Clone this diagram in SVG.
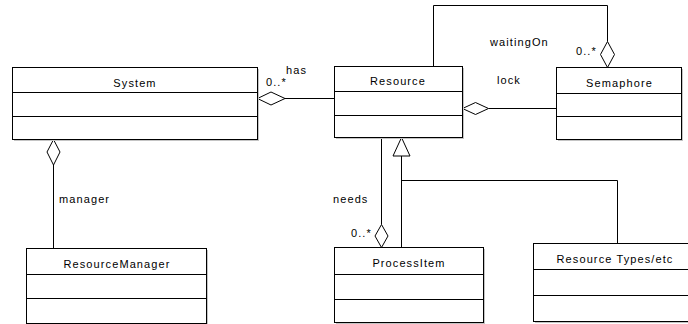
<svg xmlns="http://www.w3.org/2000/svg" width="688" height="324" viewBox="0 0 688 324">
  <style>
    .box { fill: #ffffff; stroke: #000000; stroke-width: 1; }
    .shadow { fill: #c4c4c4; }
    .div { stroke: #000000; stroke-width: 1; fill: none; }
    .line { stroke: #000000; stroke-width: 1; fill: none; }
    .agg { fill: #ffffff; stroke: #000000; stroke-width: 1; }
    text { font-family: "Liberation Sans", Arial, sans-serif; font-size: 11px; letter-spacing: 1.1px; fill: #000000; }
    .title { text-anchor: middle; }
  </style>

  <rect width="688" height="324" fill="#ffffff"/>

  <!-- associations and generalization -->
  <g id="connectors">
    <!-- System has Resource -->
    <line class="line" x1="285" y1="98.5" x2="334.5" y2="98.5"/>
    <polygon class="agg" points="257.5,98.5 271,92 285,98.5 271,105"/>
    <text x="266" y="86">0..*</text>
    <text x="286" y="74">has</text>

    <!-- System manager ResourceManager -->
    <line class="line" x1="53.5" y1="165" x2="53.5" y2="248.5"/>
    <polygon class="agg" points="53.5,139.5 47,152 53.5,165 60,152"/>
    <text x="59" y="202.5">manager</text>

    <!-- Semaphore waitingOn Resource -->
    <path class="line" d="M433.5,66.5 V5.5 H607.5 V41.5"/>
    <polygon class="agg" points="607.5,41.5 600.5,54.5 607.5,67.5 614.5,54.5"/>
    <text x="490" y="46">waitingOn</text>
    <text x="576" y="54.5">0..*</text>

    <!-- Resource lock Semaphore -->
    <line class="line" x1="488.5" y1="108.5" x2="556.5" y2="108.5"/>
    <polygon class="agg" points="462.5,108.5 475.5,102.5 488.5,108.5 475.5,114.5"/>
    <text x="497" y="84">lock</text>

    <!-- ProcessItem needs Resource -->
    <line class="line" x1="381.5" y1="137.5" x2="381.5" y2="224.5"/>
    <polygon class="agg" points="381.5,224.5 375,236 381.5,247.5 388,236"/>
    <text x="333" y="202.5">needs</text>
    <text x="351" y="236.5">0..*</text>

    <!-- generalization to Resource -->
    <line class="line" x1="401.5" y1="156" x2="401.5" y2="247.5"/>
    <path class="line" d="M401.5,180.5 H617.5 V243.5"/>
    <polygon class="agg" points="401.5,137.5 393,156 410,156"/>
  </g>

  <g id="System">
    <rect class="shadow" x="14" y="69" width="245" height="72"/>
    <rect class="box" x="12.5" y="67.5" width="245" height="72"/>
    <line class="div" x1="12.5" y1="92.5" x2="257.5" y2="92.5"/>
    <line class="div" x1="12.5" y1="116.5" x2="257.5" y2="116.5"/>
    <text class="title" x="135" y="86.5">System</text>
  </g>

  <g id="Resource">
    <rect class="shadow" x="336" y="68" width="128" height="71"/>
    <rect class="box" x="334.5" y="66.5" width="128" height="71"/>
    <line class="div" x1="334.5" y1="91.5" x2="462.5" y2="91.5"/>
    <line class="div" x1="334.5" y1="115.5" x2="462.5" y2="115.5"/>
    <text class="title" x="398" y="85">Resource</text>
  </g>

  <g id="Semaphore">
    <rect class="shadow" x="558" y="69" width="125" height="72"/>
    <rect class="box" x="556.5" y="67.5" width="125" height="72"/>
    <line class="div" x1="556.5" y1="93.5" x2="681.5" y2="93.5"/>
    <line class="div" x1="556.5" y1="116.5" x2="681.5" y2="116.5"/>
    <text class="title" x="619.5" y="86.5">Semaphore</text>
  </g>

  <g id="ResourceManager">
    <rect class="shadow" x="28" y="250" width="180" height="75"/>
    <rect class="box" x="26.5" y="248.5" width="180" height="75"/>
    <line class="div" x1="26.5" y1="274.5" x2="206.5" y2="274.5"/>
    <line class="div" x1="26.5" y1="298.5" x2="206.5" y2="298.5"/>
    <text class="title" x="117" y="267.5">ResourceManager</text>
  </g>

  <g id="ProcessItem">
    <rect class="shadow" x="336" y="249" width="149" height="75"/>
    <rect class="box" x="334.5" y="247.5" width="149" height="75"/>
    <line class="div" x1="334.5" y1="274.5" x2="483.5" y2="274.5"/>
    <line class="div" x1="334.5" y1="299.5" x2="483.5" y2="299.5"/>
    <text class="title" x="409" y="267">ProcessItem</text>
  </g>

  <g id="ResourceTypes">
    <rect class="shadow" x="535" y="245" width="160" height="78"/>
    <rect class="box" x="533.5" y="243.5" width="160" height="78"/>
    <line class="div" x1="533.5" y1="269.5" x2="693.5" y2="269.5"/>
    <line class="div" x1="533.5" y1="295.5" x2="693.5" y2="295.5"/>
    <text class="title" x="615" y="262.5">Resource Types/etc</text>
  </g>
</svg>
